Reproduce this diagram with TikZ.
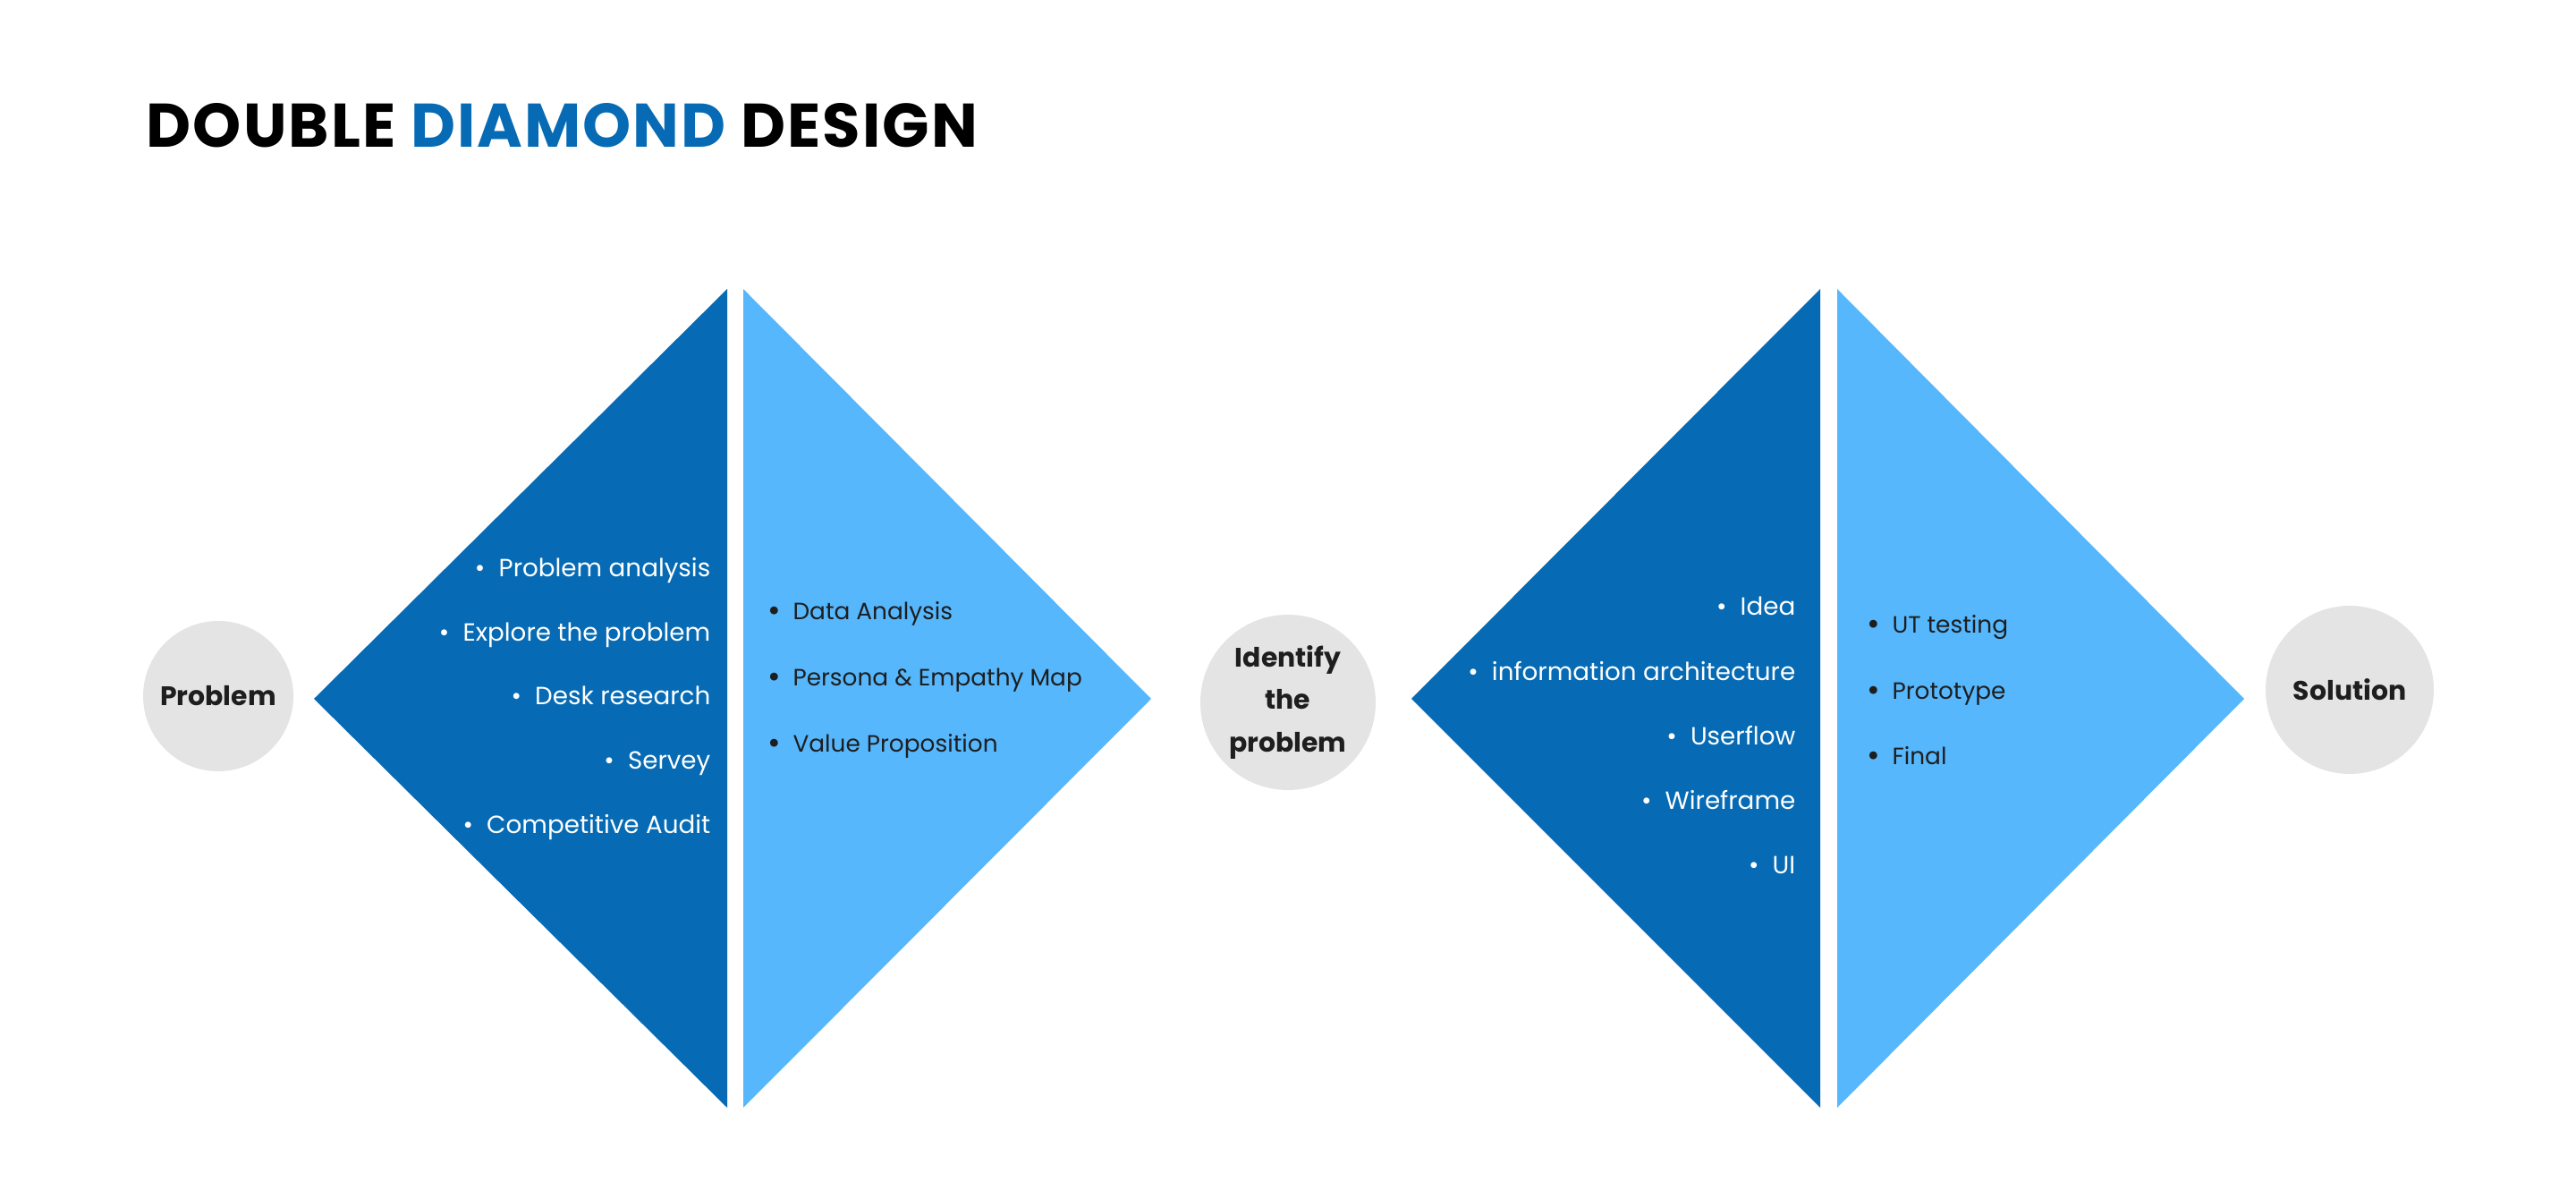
\documentclass[tikz,border=0pt]{standalone}
\usepackage{fontspec}
\setmainfont{Poppins}
\definecolor{deepblue}{HTML}{066BB4}
\definecolor{skyblue}{HTML}{56B7FD}
\definecolor{stone}{HTML}{E4E4E4}
\definecolor{ink}{HTML}{1E1E1E}
\newcommand{\itm}[1]{\textbullet\hspace{0.55em}#1}
\newcommand{\itmb}[1]{\raisebox{-0.1ex}{\scalebox{1.35}{\textbullet}}\hspace{0.5em}#1}

\begin{document}
\begin{tikzpicture}[
    darkitem/.style={anchor=mid east,inner sep=0pt,text=white,font=\fontsize{7.9}{10}\selectfont},
    lightitem/.style={anchor=mid west,inner sep=0pt,text=ink,font=\fontsize{7.5}{10}\selectfont},
    stage/.style={circle,fill=stone,inner sep=0pt,align=center,text=ink,
      font=\fontsize{8.5}{13.6}\selectfont\bfseries}]
    \useasboundingbox (0,0) rectangle (28.8,13.4);
    %
    \coordinate (a) at (3.51,5.59);
    \coordinate (at) at (8.13,10.17);
    \coordinate (ab) at (8.13,1.02);
    \coordinate (bt) at (8.31,10.17);
    \coordinate (bb) at (8.31,1.02);
    \coordinate (b) at (12.87,5.59);
    \coordinate (c) at (15.78,5.59);
    \coordinate (ct) at (20.35,10.17);
    \coordinate (cb) at (20.35,1.02);
    \coordinate (dt) at (20.54,10.17);
    \coordinate (db) at (20.54,1.02);
    \coordinate (d) at (25.09,5.59);
    %
    \fill[deepblue] (a) -- (at) -- (ab) -- cycle;
    \fill[skyblue] (bt) -- (b) -- (bb) -- cycle;
    \fill[deepblue] (c) -- (ct) -- (cb) -- cycle;
    \fill[skyblue] (dt) -- (d) -- (db) -- cycle;
    %
    \node[anchor=base west,inner sep=0pt,
      font=\fontsize{19.6}{22}\selectfont\bfseries\addfontfeatures{LetterSpace=3}] (title)
      at (1.63,11.75) {DOUBLE \textcolor{deepblue}{DIAMOND} DESIGN};
    %
    \node[stage,minimum size=1.68cm] (problem) at (2.44,5.62) {Problem};
    \node[stage,minimum size=1.96cm] (identify) at (14.40,5.55) {Identify\\the\\problem};
    \node[stage,minimum size=1.88cm] (solution) at (26.27,5.69) {Solution};
    %
    \node[darkitem] (pa) at (7.95,7.05) {\itm{Problem analysis}};
    \node[darkitem] (ep) at (7.95,6.33) {\itm{Explore the problem}};
    \node[darkitem] (dr) at (7.95,5.62) {\itm{Desk research}};
    \node[darkitem] (sv) at (7.95,4.90) {\itm{Servey}};
    \node[darkitem] (ca) at (7.95,4.18) {\itm{Competitive Audit}};
    %
    \node[lightitem] (da) at (8.58,6.57) {\itmb{Data Analysis}};
    \node[lightitem] (pe) at (8.58,5.83) {\itmb{Persona \& Empathy Map}};
    \node[lightitem] (vp) at (8.58,5.09) {\itmb{Value Proposition}};
    %
    \node[darkitem] (id) at (20.08,6.62) {\itm{Idea}};
    \node[darkitem] (ia) at (20.08,5.89) {\itm{information architecture}};
    \node[darkitem] (uf) at (20.08,5.17) {\itm{Userflow}};
    \node[darkitem] (wf) at (20.08,4.45) {\itm{Wireframe}};
    \node[darkitem] (ui) at (20.08,3.73) {\itm{UI}};
    %
    \node[lightitem] (ut) at (20.87,6.42) {\itmb{UT testing}};
    \node[lightitem] (pt) at (20.87,5.68) {\itmb{Prototype}};
    \node[lightitem] (fn) at (20.87,4.95) {\itmb{Final}};
\end{tikzpicture}
\end{document}
